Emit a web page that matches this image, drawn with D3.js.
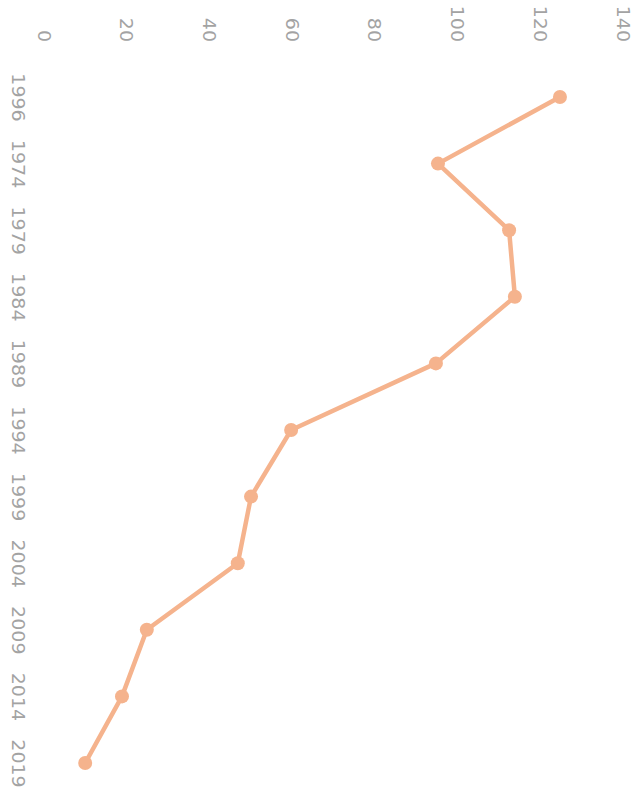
<!DOCTYPE html>
<html>
<head>
<meta charset="utf-8">
<script src="https://cdn.jsdelivr.net/npm/d3@7"></script>
<style>
html,body{margin:0;padding:0;background:#fff;}
svg{display:block;}
</style>
</head>
<body>
<svg id="chart" width="639" height="787"></svg>
<script>
const years = ["1996","1974","1979","1984","1989","1994","1999","2004","2009","2014","2019"];
const values = [125, 95.5, 112.7, 114.1, 95, 60, 50.3, 47.1, 25.1, 19.1, 10.2];
const valueTicks = [0, 20, 40, 60, 80, 100, 120, 140];

const svg = d3.select("#chart");
const x = d3.scaleLinear().domain([0, 140]).range([43, 622]);
const y = d3.scalePoint().domain(years).range([97, 763]);

const lineColor = "#f5b38d";
const textColor = "#a3a3a3";
const font = "DejaVu Sans, sans-serif";

// value axis along the top (rotated labels)
const vAxis = svg.append("g").attr("transform", "translate(0,42)")
  .call(d3.axisTop(x).tickValues(valueTicks).tickSize(0).tickPadding(0));
vAxis.select(".domain").remove();
vAxis.selectAll("text")
  .attr("x", 0).attr("y", 0).attr("dy", "0.35em")
  .attr("transform", "rotate(90) scale(1.12,1)")
  .attr("text-anchor", "end")
  .attr("fill", textColor)
  .style("font-family", font).style("font-size", "17px");

// category axis on the left (rotated labels)
const cAxis = svg.append("g").attr("transform", "translate(18,0)")
  .call(d3.axisLeft(y).tickSize(0).tickPadding(0));
cAxis.select(".domain").remove();
cAxis.selectAll("text")
  .attr("x", 0).attr("y", 0).attr("dy", "0.35em")
  .attr("transform", "rotate(90) scale(1.12,1)")
  .attr("text-anchor", "middle")
  .attr("fill", textColor)
  .style("font-family", font).style("font-size", "17px");

const data = years.map((yr, i) => ({yr, v: values[i]}));

svg.append("path")
  .datum(data)
  .attr("fill", "none")
  .attr("stroke", lineColor)
  .attr("stroke-width", 4.5)
  .attr("stroke-linejoin", "round")
  .attr("d", d3.line().x(d => x(d.v)).y(d => y(d.yr)));

svg.append("g").selectAll("circle")
  .data(data).join("circle")
  .attr("cx", d => x(d.v))
  .attr("cy", d => y(d.yr))
  .attr("r", 7)
  .attr("fill", lineColor);
</script>
</body>
</html>
